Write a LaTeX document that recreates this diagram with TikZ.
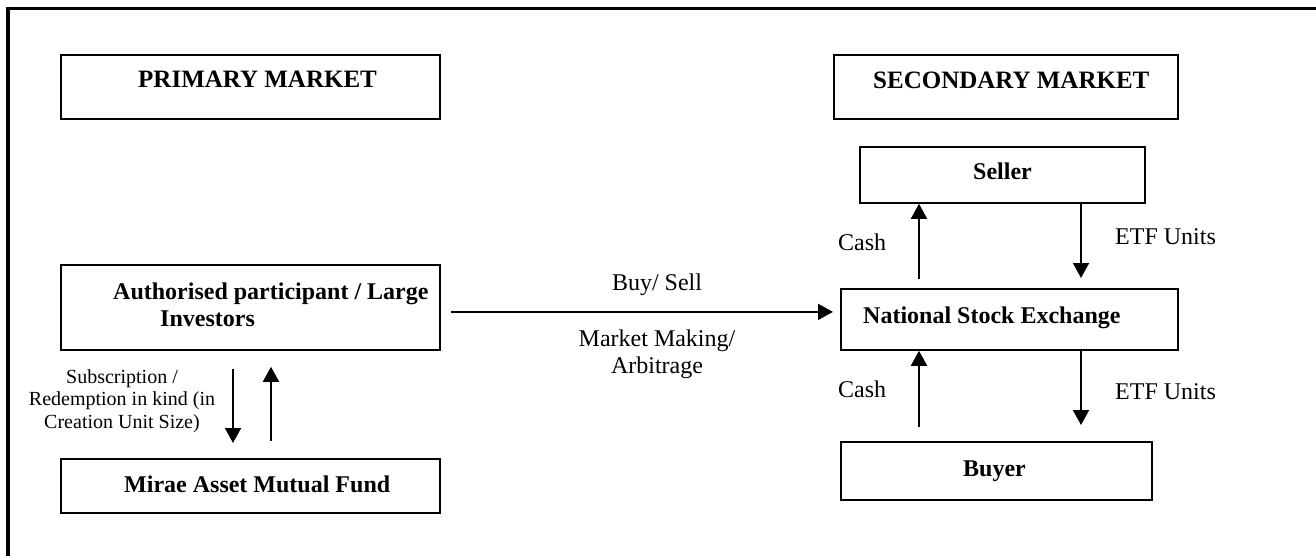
\documentclass[tikz,border=0pt]{standalone}
\usepackage{fontspec}
\setmainfont{Liberation Serif}
\usetikzlibrary{arrows.meta}
\begin{document}
\begin{tikzpicture}[x=1pt,y=-1pt,
  box/.style={draw,line width=1.8pt,rectangle,inner sep=0pt,anchor=north west},
  lbl/.style={inner sep=0pt,anchor=base west,font=\fontsize{24}{28}\selectfont},
  blbl/.style={lbl,font=\fontsize{24}{28}\selectfont\bfseries},
  hlbl/.style={lbl,font=\fontsize{25}{29}\selectfont\bfseries},
  arr/.style={line width=1.8pt,-{Triangle[length=15pt,width=16pt]}}]
\useasboundingbox (0,0) rectangle (1316,556);
\draw[line width=3.5pt] (8,556) -- (8,8.5) -- (1316,8.5);
% boxes
\node[box,minimum width=379pt,minimum height=64pt] (pm) at (60,54) {};
\node[box,minimum width=344pt,minimum height=64pt] (sm) at (833,54) {};
\node[box,minimum width=285pt,minimum height=56pt] (seller) at (859,146) {};
\node[box,minimum width=337pt,minimum height=61pt] (nse) at (840,288) {};
\node[box,minimum width=311pt,minimum height=58pt] (buyer) at (840,441) {};
\node[box,minimum width=379pt,minimum height=85pt] (ap) at (60,264) {};
\node[box,minimum width=379pt,minimum height=54pt] (mf) at (60,458) {};
% box texts
\node[hlbl] (pmt) at (138,88) {PRIMARY MARKET};
\node[hlbl] (smt) at (873,89) {SECONDARY MARKET};
\node[blbl] (sellert) at (973,179) {Seller};
\node[blbl] (nset) at (863,323) {National Stock Exchange};
\node[blbl] (buyert) at (963,476) {Buyer};
\node[blbl] (mft) at (124,492) {Mirae Asset Mutual Fund};
\node[blbl] (apt1) at (113,299) {Authorised participant / Large};
\node[blbl] (apt2) at (160,326) {Investors};
% connector labels
\node[inner sep=0pt,anchor=base,align=center,font=\fontsize{20}{22.5}\selectfont] (subt) at (122,428)
  {Subscription /\\Redemption in kind (in\\Creation Unit Size)};
\node[inner sep=0pt,anchor=base,font=\fontsize{24}{27}\selectfont] (buyt) at (657,290) {Buy/ Sell};
\node[inner sep=0pt,anchor=base,align=center,font=\fontsize{24}{27}\selectfont] (mmt) at (657,373) {Market Making/\\Arbitrage};
\node[lbl] (cash1) at (838,250) {Cash};
\node[lbl] (etf1) at (1115,244) {ETF Units};
\node[lbl] (cash2) at (838,397) {Cash};
\node[lbl] (etf2) at (1115,399) {ETF Units};
% connectors
\draw[arr,shorten <=10pt,shorten >=7pt] ([yshift=-4.5pt]ap.east) -- ([yshift=7.5pt]nse.west);
\draw[arr,shorten <=18pt,shorten >=15pt] ([xshift=173pt]ap.south west) -- ([xshift=173pt]mf.north west);
\draw[arr,shorten <=17pt,shorten >=16pt] ([xshift=211pt]mf.north west) -- ([xshift=211pt]ap.south west);
\draw[arr,shorten <=9pt] ([xshift=79pt]nse.north west) -- ([xshift=60pt]seller.south west);
\draw[arr,shorten >=10pt] ([xshift=222pt]seller.south west) -- ([xshift=241pt]nse.north west);
\draw[arr,shorten <=14pt] ([xshift=79pt]buyer.north west) -- ([xshift=79pt]nse.south west);
\draw[arr,shorten >=16pt] ([xshift=241pt]nse.south west) -- ([xshift=241pt]buyer.north west);
\end{tikzpicture}
\end{document}
